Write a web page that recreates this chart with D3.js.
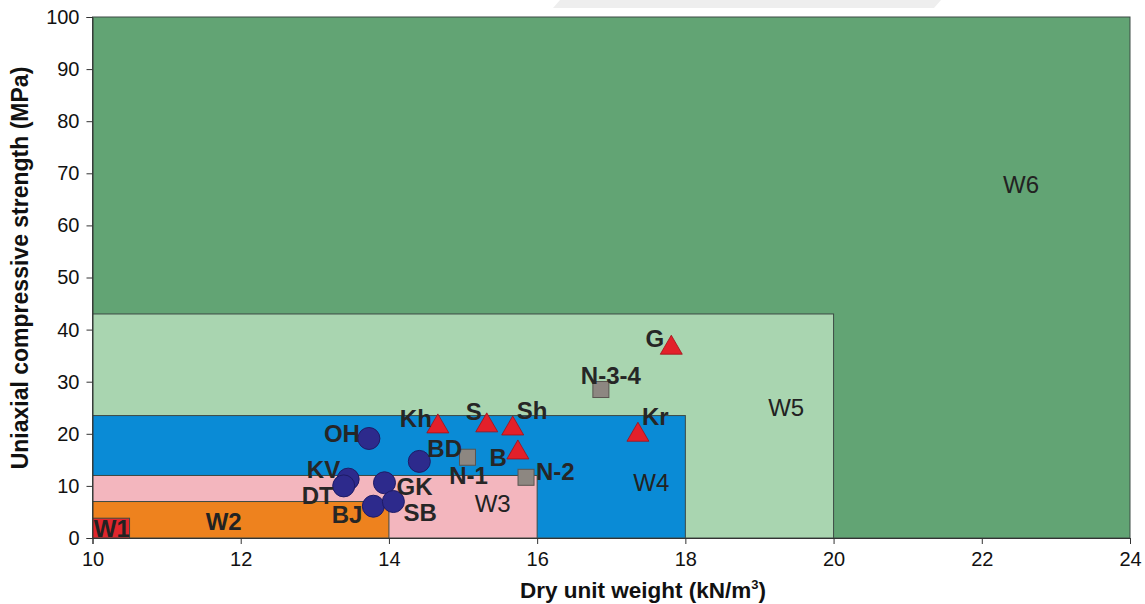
<!DOCTYPE html>
<html>
<head>
<meta charset="utf-8">
<script src="https://cdn.jsdelivr.net/npm/d3@7"></script>
<style>
  body { margin: 0; background: #fff; }
  svg { display: block; font-family: "Liberation Sans", Arial, sans-serif; }
</style>
</head>
<body>
<div id="chart"></div>
<script>
// weathering zones (all start at x=10, y=0)
var zoneNames = ['W6', 'W5', 'W4', 'W3', 'W2', 'W1'];
var zoneXMax = [24, 20, 18, 16, 14, 10.5];
var zoneYMax = [100, 43, 23.5, 12, 7, 3.8];
var zoneColors = ['#62a474', '#a9d5b0', '#0a8bd6', '#f3b6be', '#ee821e', '#e0262c'];
var zoneLabelX = [22.53, 19.36, 17.54, 15.4, 11.77, 10.26];
var zoneLabelY = [67.9, 25.1, 10.6, 6.7, 3.1, 1.9];

// circles
var circleNames = ['OH', 'BD', 'KV', 'DT', 'GK', 'BJ', 'SB'];
var circleX = [13.73, 14.41, 13.45, 13.39, 13.94, 13.79, 14.06];
var circleY = [19.1, 14.7, 11.3, 10.0, 10.6, 6.1, 7.0];

// squares
var squareNames = ['N-1', 'N-2', 'N-3-4'];
var squareX = [15.06, 15.85, 16.86];
var squareY = [15.5, 11.65, 28.5];

// triangles
var triNames = ['Kh', 'S', 'Sh', 'B', 'Kr', 'G'];
var triX = [14.66, 15.32, 15.67, 15.74, 17.36, 17.81];
var triY = [21.9, 22.1, 21.5, 16.9, 20.3, 37.0];

var xTicks = [10, 12, 14, 16, 18, 20, 22, 24];
var yTicks = [0, 10, 20, 30, 40, 50, 60, 70, 80, 90, 100];

// label placement relative to the mark (pixels)
var labelPlace = {
    'OH': ['end', -9, 4], 'BD': ['start', 8, -4], 'KV': ['end', -8, -1],
    'DT': ['end', -10, 18], 'GK': ['start', 12, 12], 'BJ': ['end', -11, 17],
    'SB': ['start', 10, 19], 'N-1': ['middle', 1, 27], 'N-2': ['start', 10, 3],
    'N-3-4': ['middle', 10, -6], 'Kh': ['end', -6, 3], 'S': ['end', -5, -3],
    'Sh': ['start', 4, -7], 'B': ['end', -11, 16], 'Kr': ['start', 4, -7],
    'G': ['end', -7, 2]
};

var width = 1145, height = 604;
var svg = d3.select('#chart').append('svg')
    .attr('width', width)
    .attr('height', height);

// faint watermark band at the top
svg.append('polygon')
    .attr('points', '560,0 941,0 934,8 553,8')
    .style('fill', '#eeeeee');

var x = d3.scaleLinear().domain([10, 24]).range([92.5, 1130]);
var y = d3.scaleLinear().domain([0, 100]).range([538, 17]);

// zones
svg.append('g').selectAll('rect')
    .data(zoneNames)
    .enter().append('rect')
    .attr('x', x(10))
    .attr('y', function(d, i) { return y(zoneYMax[i]); })
    .attr('width', function(d, i) { return x(zoneXMax[i]) - x(10); })
    .attr('height', function(d, i) { return y(0) - y(zoneYMax[i]); })
    .style('fill', function(d, i) { return zoneColors[i]; })
    .style('stroke', '#3d4a44')
    .style('stroke-width', 1);

svg.append('g').selectAll('text')
    .data(zoneNames)
    .enter().append('text')
    .attr('x', function(d, i) { return x(zoneLabelX[i]); })
    .attr('y', function(d, i) { return y(zoneLabelY[i]); })
    .attr('dy', '0.36em')
    .attr('text-anchor', 'middle')
    .style('font-size', '24px')
    .style('font-weight', function(d, i) { return i >= 4 ? 'bold' : 'normal'; })
    .style('fill', '#222')
    .text(function(d) { return d; });

// axes
var xAxis = svg.append('g')
    .attr('transform', 'translate(0,' + y(0) + ')');
xAxis.call(d3.axisBottom(x).tickValues(d3.range(10, 24.01, 0.5)).tickSize(5).tickFormat(''));
xAxis.call(d3.axisBottom(x).tickValues(xTicks).tickSize(6).tickPadding(8).tickFormat(d3.format('d')));
xAxis.selectAll('text').style('font-size', '20px').style('fill', '#111');

var yAxis = svg.append('g')
    .attr('transform', 'translate(' + x(10) + ',0)');
yAxis.call(d3.axisLeft(y).tickValues(d3.range(0, 100.01, 2)).tickSize(5).tickFormat(''));
yAxis.call(d3.axisLeft(y).tickValues(yTicks).tickSize(6).tickPadding(7).tickFormat(d3.format('d')));
yAxis.selectAll('text').style('font-size', '20px').style('fill', '#111');

svg.selectAll('.domain').style('stroke', '#333');
svg.selectAll('.tick line').style('stroke', '#333');

// marks
var circles = circleNames.map(function(n, i) { return { name: n, x: circleX[i], y: circleY[i] }; });
var squares = squareNames.map(function(n, i) { return { name: n, x: squareX[i], y: squareY[i] }; });
var tris = triNames.map(function(n, i) { return { name: n, x: triX[i], y: triY[i] }; });

svg.append('g').selectAll('rect')
    .data(squares)
    .enter().append('rect')
    .attr('x', function(d) { return x(d.x) - 8; })
    .attr('y', function(d) { return y(d.y) - 8; })
    .attr('width', 16)
    .attr('height', 16)
    .style('fill', '#8d8781')
    .style('stroke', '#5a5550')
    .style('stroke-width', 1);

svg.append('g').selectAll('circle')
    .data(circles)
    .enter().append('circle')
    .attr('cx', function(d) { return x(d.x); })
    .attr('cy', function(d) { return y(d.y); })
    .attr('r', 11)
    .style('fill', '#2d2a8c')
    .style('stroke', '#1e1b66')
    .style('stroke-width', 1);

svg.append('g').selectAll('path')
    .data(tris)
    .enter().append('path')
    .attr('d', function(d) {
        var cx = x(d.x), cy = y(d.y);
        return 'M' + cx + ',' + (cy - 10) + 'L' + (cx + 11) + ',' + (cy + 9) + 'L' + (cx - 11) + ',' + (cy + 9) + 'Z';
    })
    .style('fill', '#e3202a')
    .style('stroke', '#a01018')
    .style('stroke-width', 0.8);

var allPts = circles.concat(squares).concat(tris);
svg.append('g').selectAll('text')
    .data(allPts)
    .enter().append('text')
    .attr('x', function(d) { return x(d.x) + labelPlace[d.name][1]; })
    .attr('y', function(d) { return y(d.y) + labelPlace[d.name][2]; })
    .attr('text-anchor', function(d) { return labelPlace[d.name][0]; })
    .style('font-size', '24px')
    .style('font-weight', 'bold')
    .style('fill', '#262626')
    .text(function(d) { return d.name; });

// axis titles
var xt = svg.append('text')
    .attr('x', 643)
    .attr('y', 598)
    .attr('text-anchor', 'middle')
    .style('font-size', '22.5px')
    .style('font-weight', 'bold')
    .style('fill', '#111');
xt.append('tspan').text('Dry unit weight (kN/m');
xt.append('tspan').attr('dy', -9).style('font-size', '13px').text('3');
xt.append('tspan').attr('dy', 9).text(')');

svg.append('text')
    .attr('transform', 'translate(28,268) rotate(-90)')
    .attr('text-anchor', 'middle')
    .style('font-size', '23px')
    .style('font-weight', 'bold')
    .style('fill', '#111')
    .text('Uniaxial compressive strength (MPa)');
</script>
</body>
</html>
